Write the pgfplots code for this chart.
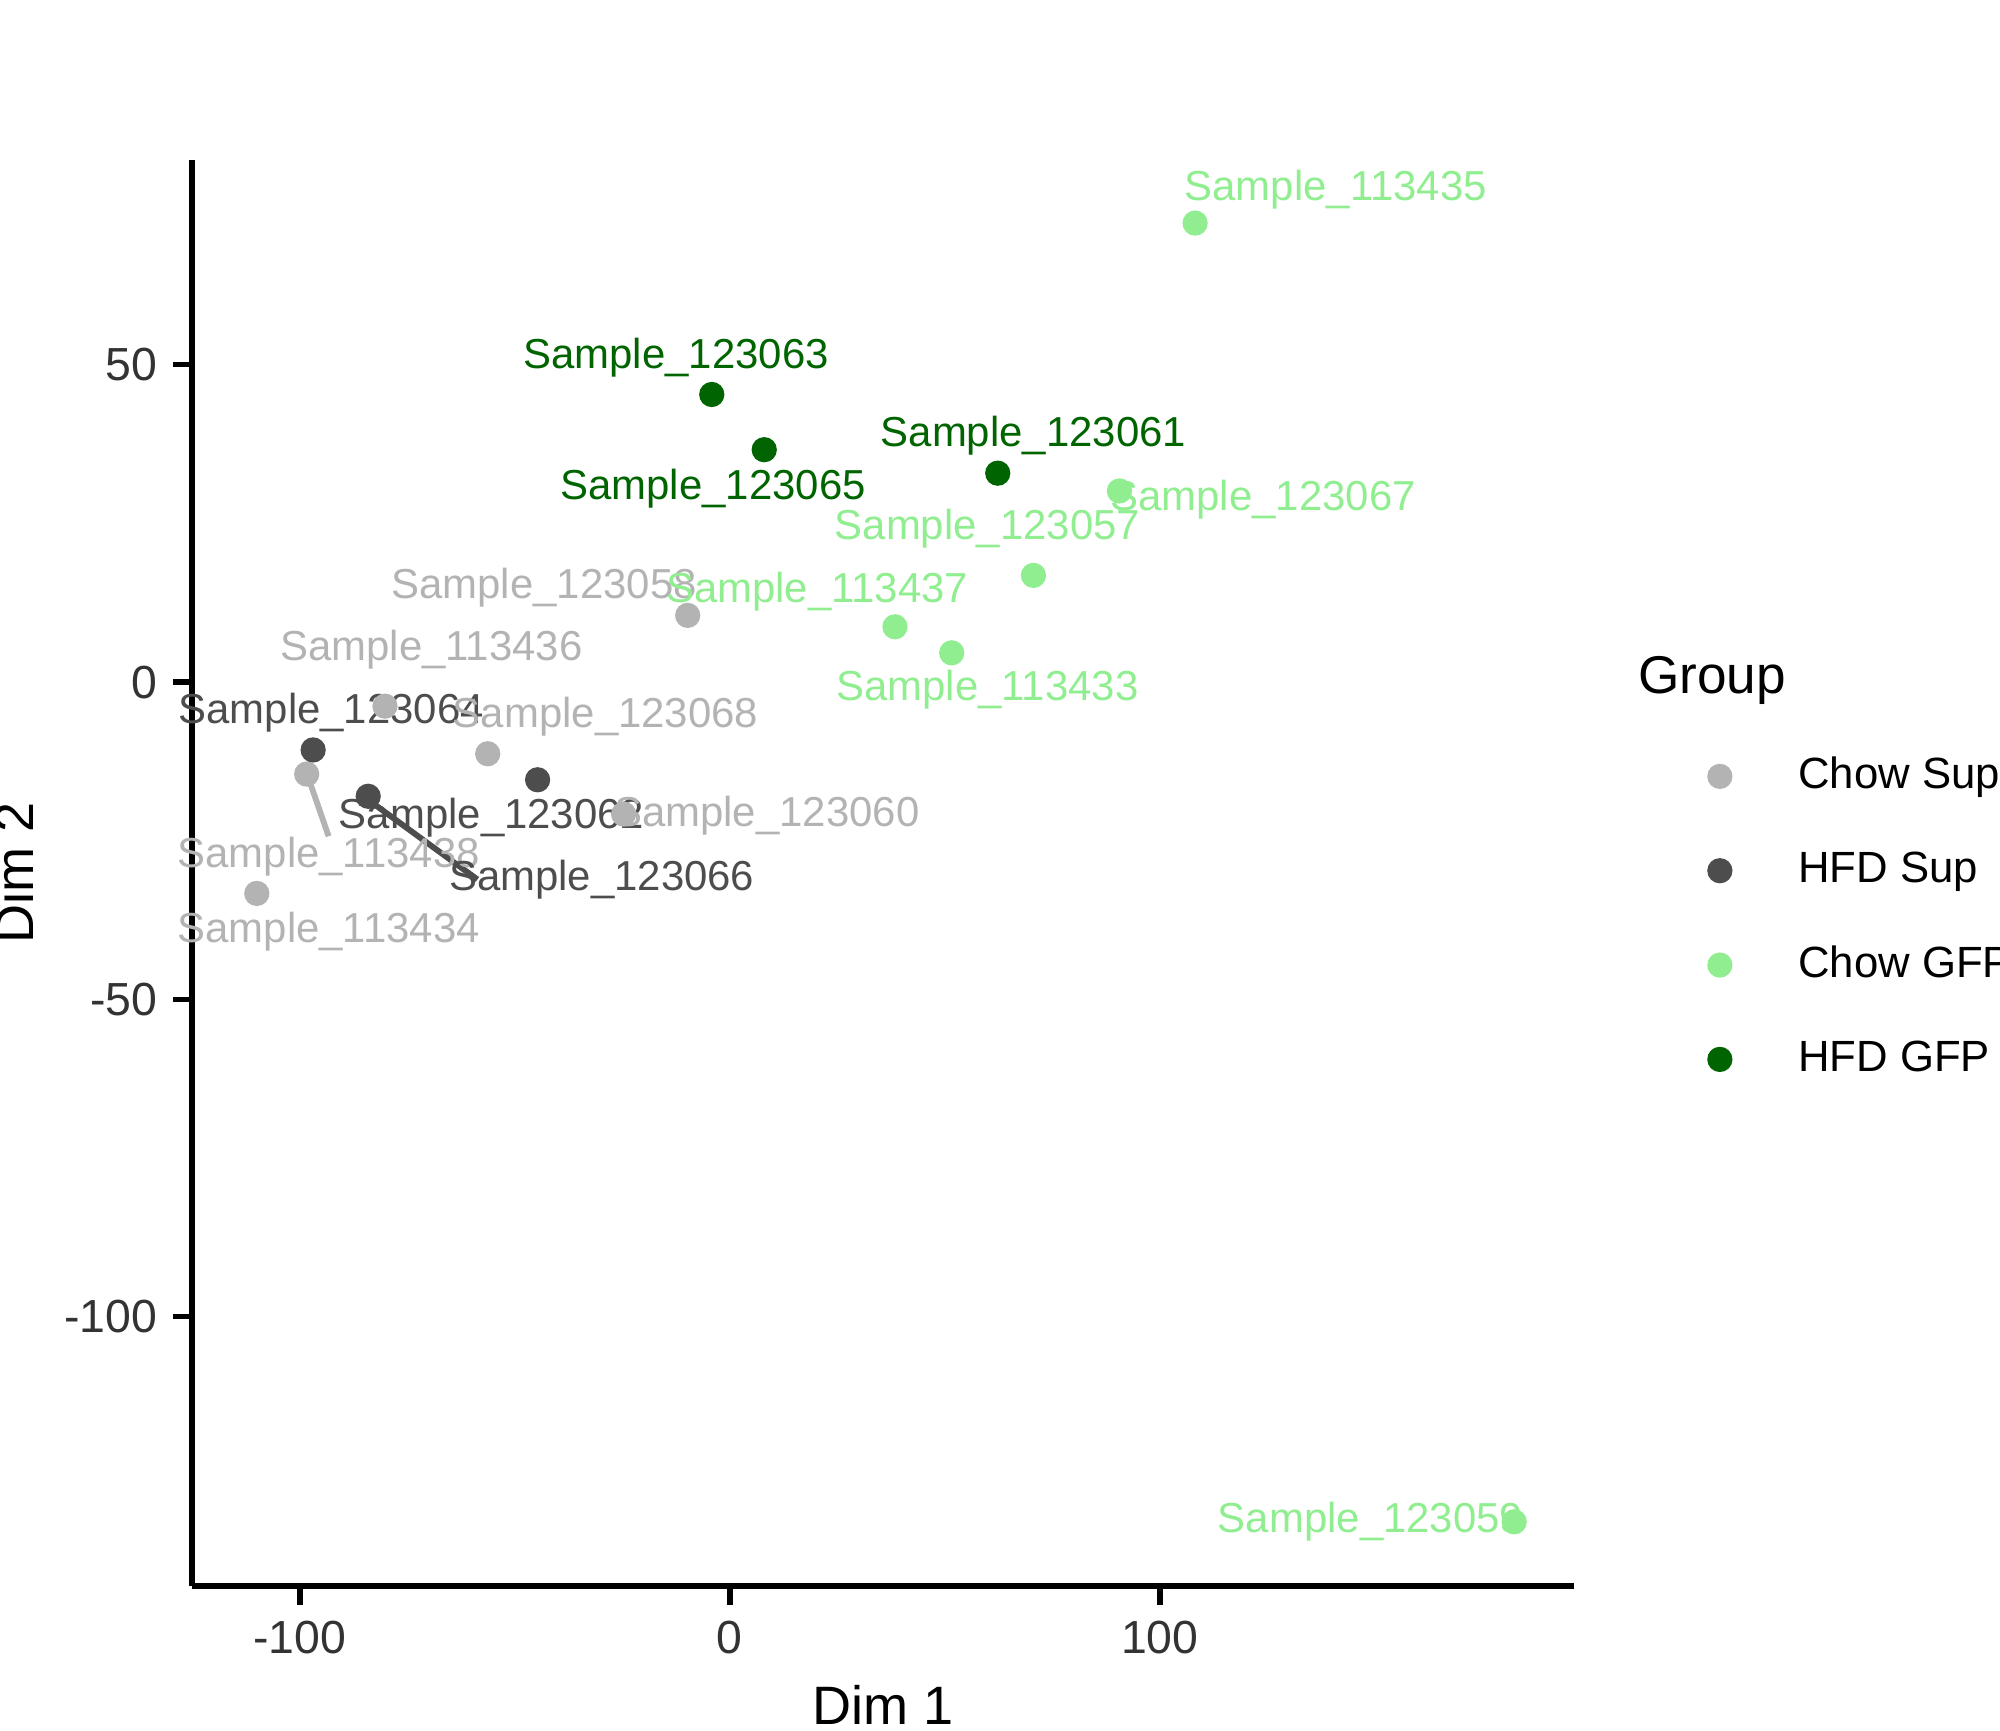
\documentclass[border=0pt]{standalone}
\usepackage{pgfplots}
\pgfplotsset{compat=1.18}
\usepackage{fontspec}
\setmainfont{Liberation Sans}
\definecolor{cs}{HTML}{B3B3B3}
\definecolor{hs}{HTML}{4D4D4D}
\definecolor{cg}{HTML}{90EE90}
\definecolor{hg}{HTML}{006400}
\begin{document}
\begin{tikzpicture}
\path[use as bounding box] (-1.5cm,-1.13cm) rectangle (14.1cm,12.37cm);
\begin{axis}[
  at={(0,0)}, anchor=south west,
  scale only axis, width=10.78cm, height=11.12cm,
  xmin=-125, xmax=196.4, ymin=-142.4, ymax=82.2,
  axis x line*=bottom, axis y line*=left,
  axis line style={line width=1.4pt, -},
  xtick={-100,0,100}, ytick={-100,-50,0,50},
  tick align=outside, major tick length=0.15cm,
  tick style={line width=1.2pt, black},
  /pgf/number format/assume math mode=true,
  ticklabel style={font=\fontsize{10.3}{12}\selectfont, text=black!80},
  xlabel={Dim 1}, ylabel={Dim 2},
  label style={font=\fontsize{12}{14}\selectfont},
  clip=false,
  legend style={draw=none, fill=none, at={(1.067,0.665)}, anchor=north west,
    font=\fontsize{9.7}{12}\selectfont, row sep=0.3cm},
  legend cell align=left,
]
\addlegendimage{empty legend}
\addlegendentry{\hspace{-0.8cm}\fontsize{11.8}{14}\selectfont Group}
\draw[cs, line width=1.3pt] (axis cs:-97.8,-15.5) -- (axis cs:-93.3,-24.3);
\draw[hs, line width=1.3pt] (axis cs:-83.2,-19) -- (axis cs:-58.7,-31.1);
\addplot[only marks, mark=*, mark size=2.6pt, cs, mark options={draw=cs, fill=cs}] coordinates {
(-80.2,-3.8) (-9.8,10.5) (-56.3,-11.3) (-24.7,-20.8) (-98.4,-14.5) (-110,-33.3)};
\addlegendentry{\hspace{0.45cm}Chow Sup}
\addplot[only marks, mark=*, mark size=2.6pt, hs, mark options={draw=hs, fill=hs}] coordinates {
(-96.9,-10.7) (-84.1,-18) (-44.7,-15.4)};
\addlegendentry{\hspace{0.45cm}HFD Sup}
\addplot[only marks, mark=*, mark size=2.6pt, cg, mark options={draw=cg, fill=cg}] coordinates {
(108.2,72.3) (90.6,30.1) (70.6,16.8) (38.4,8.7) (51.6,4.6) (182.4,-132.3)};
\addlegendentry{\hspace{0.45cm}Chow GFP}
\addplot[only marks, mark=*, mark size=2.6pt, hg, mark options={draw=hg, fill=hg}] coordinates {
(-4.2,45.3) (8.0,36.6) (62.3,32.9)};
\addlegendentry{\hspace{0.45cm}HFD GFP}
\begin{scope}[every node/.style={font=\fontsize{9.3}{11}\selectfont}]
\node[cg] at (axis cs:140.9,77.5) {Sample\_113435};
\node[hg] at (axis cs:-12.5,51.1) {Sample\_123063};
\node[hg] at (axis cs:-3.9,30.5) {Sample\_123065};
\node[hg] at (axis cs:70.6,38.8) {Sample\_123061};
\node[cg] at (axis cs:124,28.7) {Sample\_123067};
\node[cg] at (axis cs:59.9,24.2) {Sample\_123057};
\node[cs] at (axis cs:-43.2,14.9) {Sample\_123058};
\node[cg] at (axis cs:20.3,14.3) {Sample\_113437};
\node[cs] at (axis cs:-69.4,5.1) {Sample\_113436};
\node[cg] at (axis cs:59.9,-1.2) {Sample\_113433};
\node[hs] at (axis cs:-92.7,-4.8) {Sample\_123064};
\node[cs] at (axis cs:-28.9,-5.5) {Sample\_123068};
\node[hs] at (axis cs:-55.4,-21.4) {Sample\_123062};
\node[cs] at (axis cs:8.6,-21.0) {Sample\_123060};
\node[cs] at (axis cs:-93.3,-27.5) {Sample\_113438};
\node[hs] at (axis cs:-29.8,-31.1) {Sample\_123066};
\node[cs] at (axis cs:-93.3,-39.4) {Sample\_113434};
\node[cg] at (axis cs:149,-132.3) {Sample\_123059};
\end{scope}
\end{axis}
\end{tikzpicture}
\end{document}
